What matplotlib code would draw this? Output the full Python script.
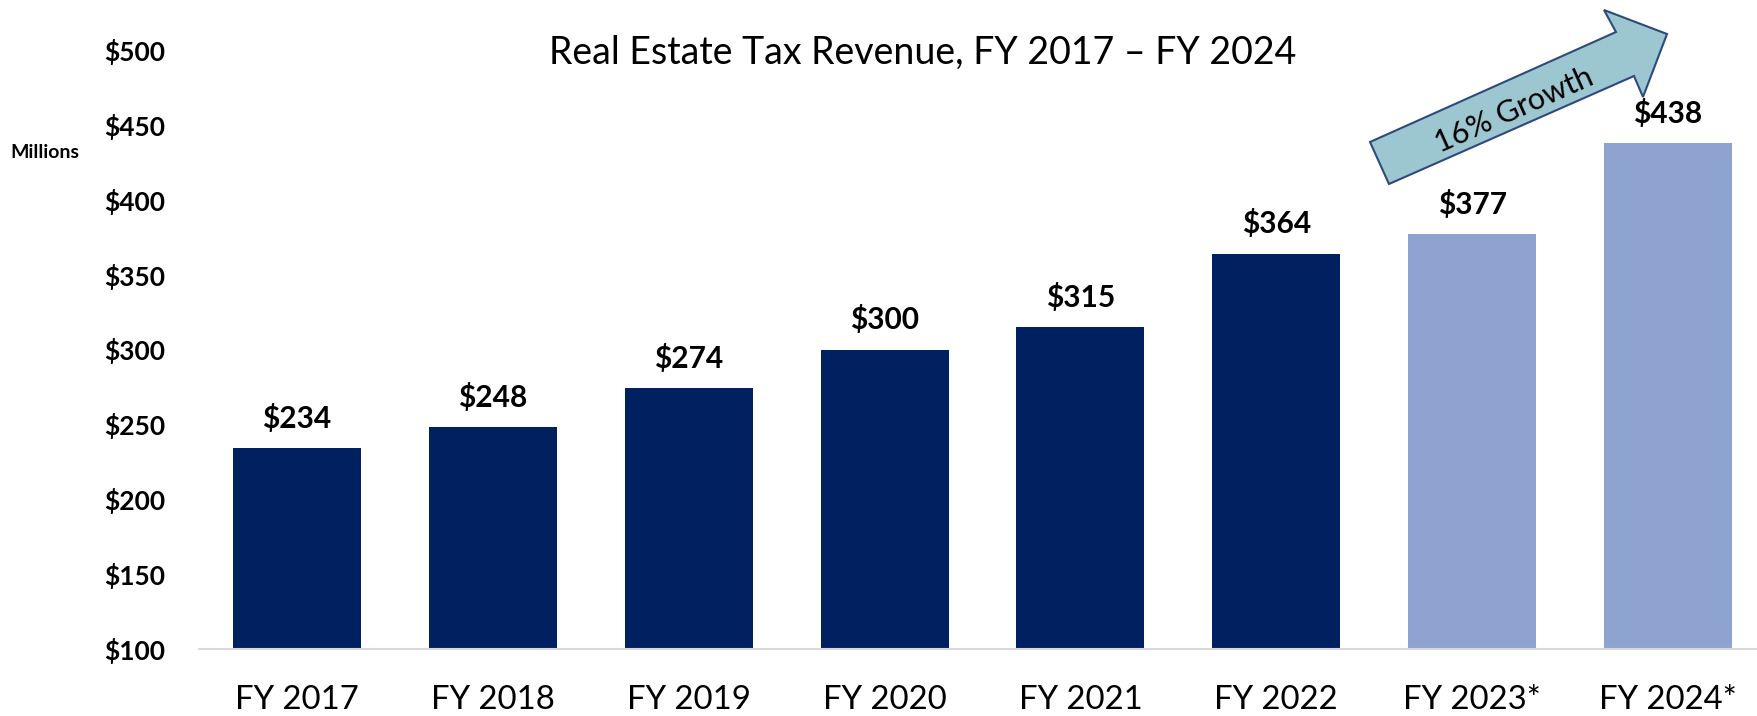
import matplotlib
matplotlib.use("Agg")
import matplotlib.pyplot as plt
from matplotlib.patches import Polygon

categories = ["FY 2017", "FY 2018", "FY 2019", "FY 2020", "FY 2021", "FY 2022", "FY 2023*", "FY 2024*"]
values = [234, 248, 274, 300, 315, 364, 377, 438]
projected = [False, False, False, False, False, False, True, True]
yticks = [100, 150, 200, 250, 300, 350, 400, 450, 500]

plt.rcParams['font.family'] = ['Lato', 'DejaVu Sans']

W, H = 1758, 716
fig = plt.figure(figsize=(W / 100, H / 100), dpi=100)
ax = fig.add_axes([199 / W, 1 - 649 / H, (1766 - 199) / W, (649 - 50) / H])

colors = ["#8FA3D1" if p else "#002060" for p in projected]
x = list(range(len(categories)))
bars = ax.bar(x, [v - 100 for v in values], bottom=100, width=0.653, color=colors)

for xi, v in zip(x, values):
    ax.annotate(f"${v}", (xi, v), xytext=(0, 11), textcoords="offset points",
                ha="center", va="bottom", fontsize=21.5, fontweight="bold", color="black")

ax.set_xlim(-0.5, len(categories) - 0.5)
ax.set_ylim(100, 500)
ax.set_yticks(yticks)
ax.set_yticklabels([f"${t}" for t in yticks], fontsize=19, fontweight="bold")
ax.set_xticks(x)
ax.set_xticklabels(categories, fontsize=23.7)
ax.tick_params(axis="y", length=0, pad=24)
ax.tick_params(axis="x", length=0, pad=26)
for s in ["top", "right", "left"]:
    ax.spines[s].set_visible(False)
ax.spines["bottom"].set_color("#D9D9D9")
ax.spines["bottom"].set_linewidth(1.5)

fig.text(923 / W, 1 - 53 / H, "Real Estate Tax Revenue, FY 2017 \u2013 FY 2024",
         ha="center", va="center", fontsize=27)
fig.text(10 / W, 1 - 153 / H, "Millions", ha="left", va="center", fontsize=14, fontweight="bold")

# growth arrow (annotation shape in figure pixel coords)
pts = [(1389, 184), (1370, 142), (1616, 32), (1604, 10), (1667, 34), (1643, 97), (1634, 76)]
poly = Polygon([(px / W, 1 - py / H) for px, py in pts], closed=True,
               transform=fig.transFigure, facecolor="#9CC6D0", edgecolor="#2E4A7D", linewidth=1.5)
fig.patches.append(poly)
fig.text(1514 / W, 1 - 110 / H, "16% Growth", ha="center", va="center", rotation=24,
         fontsize=22, rotation_mode="anchor")

fig.savefig("out.png", dpi=100)
